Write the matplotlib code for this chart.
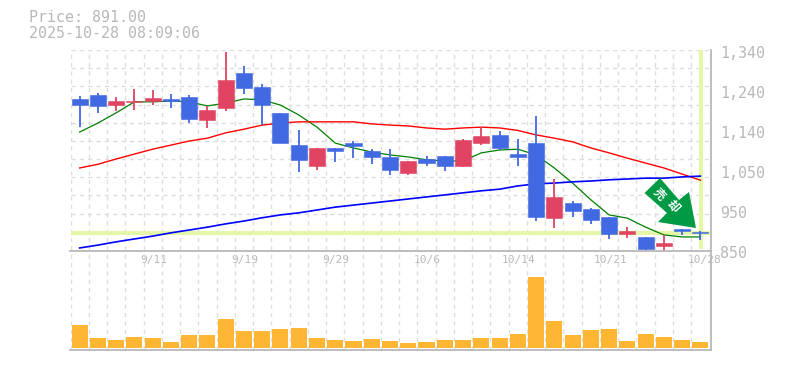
import matplotlib
matplotlib.use("Agg")
import matplotlib.pyplot as plt
from matplotlib.patches import Polygon, Rectangle

W, H = 785, 370
opens = [1220,1230,1205,1213,1215,1220,1225,1169,1198,1284,1249,1186,1107,1056,1100,1112,1093,1078,1039,1073,1080,1056,1112,1132,1085,1112,928,965,950,931,889,882,860,901,894]
closes = [1205,1203,1215,1215,1222,1215,1171,1193,1267,1247,1205,1112,1070,1100,1093,1105,1078,1046,1068,1063,1056,1120,1129,1100,1078,931,980,946,924,889,897,852,867,897,891]
highs = [1227,1235,1225,1244,1242,1232,1230,1203,1335,1301,1257,1186,1144,1100,1100,1117,1097,1097,1068,1080,1080,1122,1151,1142,1122,1178,1024,970,953,931,906,882,887,901,897]
lows = [1151,1186,1191,1193,1205,1198,1161,1149,1191,1232,1156,1112,1041,1046,1066,1075,1061,1034,1034,1056,1044,1053,1107,1095,1056,921,904,931,914,877,879,848,850,887,875]
ma_short = [1139,1161,1186,1213,1213,1215,1213,1203,1210,1220,1218,1205,1181,1151,1112,1100,1090,1083,1078,1071,1068,1068,1088,1095,1097,1083,1051,1014,973,936,928,906,887,882,882]
ma_mid = [1051,1060,1073,1085,1097,1107,1117,1124,1137,1146,1156,1161,1164,1164,1164,1164,1159,1156,1154,1149,1146,1149,1151,1149,1143,1132,1124,1115,1100,1088,1075,1063,1051,1036,1021]
ma_long = [855,862,870,877,884,892,899,906,914,921,929,936,941,948,955,960,965,970,975,980,985,990,995,999,1007,1012,1014,1017,1019,1022,1024,1026,1026,1029,1031]
volumes = [23,10,8,11,10,6,13,13,29,17,17,19,20,10,8,7,9,7,5,6,8,8,10,10,14,71,27,13,18,19,7,14,11,8,6]
date_labels = ["9/11","9/19","9/29","10/6","10/14","10/21","10/28"]
date_index = [4,9,14,19,24,29,34]
price_labels = ["1,340","1,240","1,140","1,050","950","850"]
last_price = 891

GREY = "#b8b8b8"
GRID = "#dddddd"
UP = "#e04462"
DOWN = "#4169e1"
PALE = "#e4f6a8"
MONO = "DejaVu Sans Mono"

fig = plt.figure(figsize=(W / 100, H / 100), dpi=100)
fig.patch.set_facecolor("white")

def pix_axes(x0, y0, x1, y1):
    return fig.add_axes([x0 / W, 1 - y1 / H, (x1 - x0) / W, (y1 - y0) / H])

L, R = 70.5, 709.5
ax = pix_axes(L, 50, R, 250)
vax = pix_axes(L, 250, R, 350)
n = len(opens)
for a in (ax, vax):
    a.set_xlim(-0.5, n - 0.5)
    a.patch.set_alpha(0)
    a.set_xticks([])
    a.set_yticks([])
    for s in a.spines.values():
        s.set_visible(False)
    a.set_axisbelow(True)
    for i in range(n + 1):
        a.axvline(i - 0.5, color=GRID, lw=1, ls=(0, (3, 3)), zorder=1)

ax.set_ylim(850, 1340)
vax.set_ylim(-2, 98)

step = 490 / 11
for k in range(1, 12):
    ax.axhline(850 + k * step, color=GRID, lw=1, ls=(0, (3, 3)), zorder=1)

# current price cross hair
ax.axhline(last_price, color=PALE, lw=3, zorder=2)
ax.plot([n - 1 + 0.05] * 2, [853, 1340], color=PALE, lw=3, zorder=2, solid_capstyle="butt")

xs = list(range(n))
ax.plot(xs, ma_short, color="#008000", lw=0.9, zorder=3)
ax.plot(xs, ma_mid, color="#ff0000", lw=1.0, zorder=3)
ax.plot(xs, ma_long, color="#0000ff", lw=1.2, zorder=3)

for i in xs:
    c = UP if closes[i] >= opens[i] else DOWN
    ax.plot([i, i], [lows[i], highs[i]], color=c, lw=1.3, zorder=4, solid_capstyle="butt")
    lo, hi = sorted((opens[i], closes[i]))
    ax.add_patch(Rectangle((i - 0.44, lo), 0.88, hi - lo, facecolor=c, edgecolor=c, lw=0.4, zorder=5))

vax.bar(xs, volumes, width=0.88, color="#ffb733", zorder=3)

# frame lines
for yy in (250.5, 350):
    fig.add_artist(plt.Line2D([70 / W, 711 / W], [1 - yy / H] * 2, color=GREY, lw=1.3))
fig.add_artist(plt.Line2D([710.5 / W] * 2, [1 - 50 / H, 1 - 350 / H], color=GREY, lw=1.3))

# text
fs = 10.8
for txt, y in (("Price: 891.00", 18), ("2025-10-28 08:09:06", 33)):
    fig.text(29 / W, 1 - y / H, txt, family=MONO, fontsize=fs, color=GREY, va="center", ha="left")
for k, lab in enumerate(price_labels):
    fig.text(720 / W, 1 - (53 + 40 * k) / H, lab, family=MONO, fontsize=fs, color=GREY, va="center", ha="left")
for idx, lab in zip(date_index, date_labels):
    ax.annotate(lab, (idx, 0), xycoords=("data", "axes fraction"), xytext=(4 if idx == 34 else 1, -10), textcoords="offset pixels",
                family=MONO, fontsize=8, color=GREY, ha="center", va="center", annotation_clip=False, zorder=6)

# sell-signal arrow, drawn in pixel coordinates
arrow_px = [(660, 178), (679, 200), (689, 192), (696, 228), (658, 222), (667, 213), (644.5, 193)]
fig.add_artist(Polygon([(x / W, 1 - y / H) for x, y in arrow_px], closed=True, facecolor="#009944",
                       edgecolor="none", transform=fig.transFigure, zorder=10))
for ch, (x, y) in zip("売却", [(659, 194), (673, 206)]):
    fig.text(x / W, 1 - y / H, ch, family=["Noto Sans CJK JP", "DejaVu Sans"], fontsize=8.5, fontweight="bold", color="white",
             rotation=-48, rotation_mode="anchor", ha="center", va="center", zorder=11)

fig.savefig("out.png", dpi=100, facecolor="white")
